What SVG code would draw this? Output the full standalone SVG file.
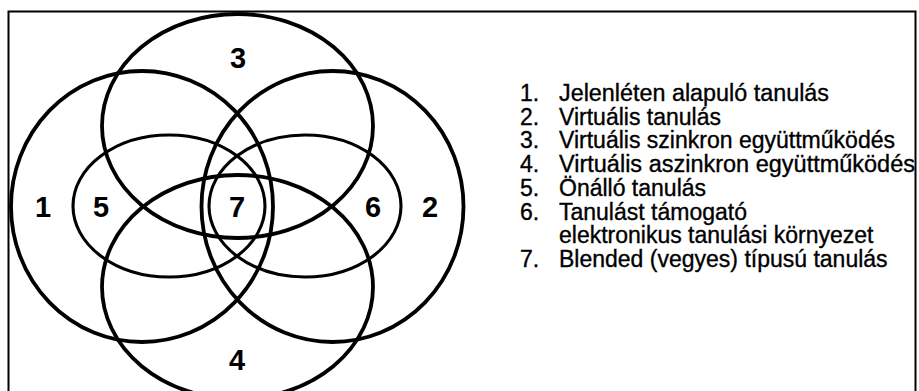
<svg xmlns="http://www.w3.org/2000/svg" width="919" height="391" viewBox="0 0 919 391">
<style>
.outer{fill:none;stroke:#000;stroke-width:3.8}
.inner{fill:none;stroke:#000;stroke-width:3.1}
.num{font-family:"Liberation Sans",Arial,sans-serif;font-weight:bold;font-size:29px;fill:#000;text-anchor:middle}
.leg{font-family:"Liberation Sans",Arial,sans-serif;font-size:23px;fill:#000;stroke:#000;stroke-width:0.35}
</style>
<rect width="919" height="391" fill="#fff"/>
<rect id="frame" x="8.5" y="11.5" width="907" height="400" fill="none" stroke="#000" stroke-width="2"/>
<g id="set1"><ellipse class="outer" cx="142" cy="206.5" rx="131" ry="135.5"/><text class="num" x="43" y="217">1</text></g>
<g id="set2"><ellipse class="outer" cx="332.5" cy="206.5" rx="131" ry="135.5"/><text class="num" x="430" y="217">2</text></g>
<g id="set3"><ellipse class="outer" cx="237.5" cy="126" rx="135.5" ry="112"/><text class="num" x="238" y="68">3</text></g>
<g id="set4"><ellipse class="outer" cx="237.5" cy="287" rx="135.5" ry="112"/><text class="num" x="237" y="370">4</text></g>
<g id="set5"><ellipse class="inner" cx="169" cy="206" rx="96" ry="71"/><text class="num" x="101" y="217">5</text></g>
<g id="set6"><ellipse class="inner" cx="305" cy="206" rx="96" ry="71"/><text class="num" x="373" y="217">6</text></g>
<g id="set7"><text class="num" x="237" y="217">7</text></g>
<g id="connectors"></g>
<g id="legend" class="leg">
<text x="520" y="101">1.</text><text x="559" y="101" textLength="270" lengthAdjust="spacingAndGlyphs">Jelenléten alapuló tanulás</text>
<text x="520" y="124.7">2.</text><text x="559" y="124.7">Virtuális tanulás</text>
<text x="520" y="148.4">3.</text><text x="559" y="148.4" textLength="336" lengthAdjust="spacingAndGlyphs">Virtuális szinkron együttműködés</text>
<text x="520" y="172.1">4.</text><text x="559" y="172.1" textLength="356" lengthAdjust="spacingAndGlyphs">Virtuális aszinkron együttműködés</text>
<text x="520" y="195.8">5.</text><text x="559" y="195.8">Önálló tanulás</text>
<text x="520" y="219.5">6.</text><text x="559" y="219.5">Tanulást támogató</text>
<text x="559" y="243.2">elektronikus tanulási környezet</text>
<text x="520" y="266.9">7.</text><text x="559" y="266.9">Blended (vegyes) típusú tanulás</text>
</g>
</svg>
